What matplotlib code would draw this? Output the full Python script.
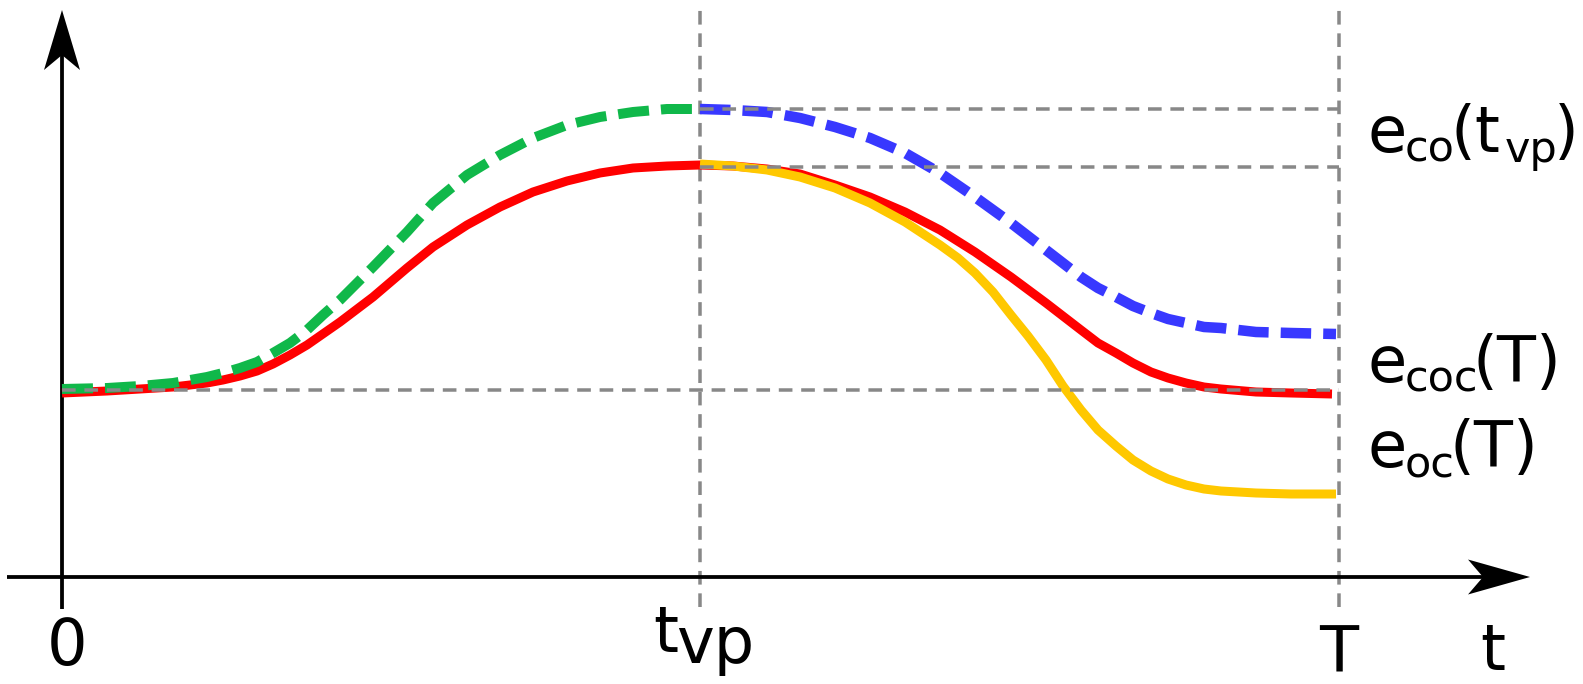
import matplotlib
matplotlib.use('Agg')
import matplotlib.pyplot as plt
from matplotlib.patches import Polygon

W, H, DPI = 1583, 684, 100
PX = 72.0 / DPI  # points per pixel

# ---- data: t = horizontal distance from origin, e = height above t-axis (arbitrary units) ----
t_red = [0, 45, 78, 111, 145, 161, 178, 195, 211, 228, 245, 278, 311, 345, 371, 405, 438, 471,
         505, 538, 571, 605, 638, 671, 705, 738, 773, 808, 843, 878, 913, 949, 984, 1019, 1036,
         1054, 1071, 1089, 1106, 1124, 1142, 1159, 1194, 1229, 1270]
e_red = [184, 186, 188, 190, 194, 197, 201, 206, 213, 222, 232, 255, 280, 309, 330, 352, 370, 385,
         396, 404, 409, 411, 412, 411, 408, 403, 392, 380, 365, 347, 325, 300, 274, 247, 234,
         224, 214, 205, 199, 194, 190, 188, 185, 184, 183]

t_green = [0, 45, 78, 111, 145, 161, 178, 195, 211, 228, 245, 261, 278, 295, 311, 345, 371, 405,
           438, 471, 505, 538, 571, 605, 638]
e_green = [188, 189, 191, 194, 200, 204, 209, 215, 224, 234, 247, 262, 277, 294, 310, 345, 374, 402,
           422, 439, 452, 460, 465, 468, 468]

t_blue = [638, 671, 705, 738, 773, 808, 843, 878, 913, 949, 984, 1019, 1036, 1054, 1071, 1089,
          1106, 1124, 1142, 1159, 1194, 1229, 1274]
e_blue = [468, 467, 465, 459, 450, 439, 424, 404, 380, 354, 327, 300, 289, 280, 271, 264,
          258, 254, 250, 249, 245, 244, 243]

t_yellow = [638, 671, 705, 738, 773, 808, 843, 878, 896, 913, 931, 949, 966, 984, 1001, 1019,
            1036, 1054, 1071, 1089, 1106, 1124, 1142, 1159, 1194, 1229, 1274]
e_yellow = [413, 411, 407, 400, 389, 374, 355, 332, 319, 304, 285, 262, 241, 217, 191, 167,
            147, 131, 117, 106, 98, 92, 88, 86, 84, 83, 83]

t_vp = 638
T_end = 1277
e_co_tvp = 468
e_coc_peak = 410
e_base = 187

plt.rcParams['font.family'] = ['DejaVu Sans']

fig = plt.figure(figsize=(W / DPI, H / DPI), dpi=DPI)
ax = fig.add_axes([0, 0, 1, 1])
ax.set_xlim(-62, W - 62)
ax.set_ylim(577 - H, 577)
ax.axis('off')

gray = '#888888'
gdash = dict(color=gray, lw=3.5 * PX, linestyle=(0, (3.9, 2.5)), dash_capstyle='butt')

# vertical reference lines (under curves)
ax.plot([t_vp, t_vp], [-30, 567], zorder=1, **gdash)
ax.plot([T_end, T_end], [-30, 567], zorder=1, **gdash)

# axes
ax.plot([-55, 1425], [0, 0], color='black', lw=3.8 * PX, solid_capstyle='butt', zorder=2)
ax.add_patch(Polygon([(1468, 0), (1406, 17.5), (1421, 0), (1406, -17.5)], closed=True,
                     facecolor='black', edgecolor='none', zorder=2))
ax.plot([0, 0], [-32, 530], color='black', lw=3.8 * PX, solid_capstyle='butt', zorder=2)
ax.add_patch(Polygon([(0, 567), (-18, 507), (0, 522), (18, 507)], closed=True,
                     facecolor='black', edgecolor='none', zorder=2))

# curves
ax.plot(t_red, e_red, color='#FF0000', lw=9 * PX, solid_capstyle='butt',
        solid_joinstyle='round', zorder=3)
ax.plot(t_yellow, e_yellow, color='#FFC800', lw=9 * PX, solid_capstyle='butt',
        solid_joinstyle='round', zorder=4)
ax.plot(t_green, e_green, color='#10B84A', lw=10 * PX, linestyle=(0, (3.1, 1.2)),
        dash_capstyle='butt', zorder=4)
ax.plot(t_blue, e_blue, color='#3838FF', lw=10.5 * PX, linestyle=(0, (2.9, 1.15)),
        dash_capstyle='butt', zorder=4)

# horizontal reference lines (over curves)
ax.plot([t_vp, T_end], [e_co_tvp, e_co_tvp], zorder=5, **gdash)
ax.plot([t_vp, T_end], [e_coc_peak, e_coc_peak], zorder=5, **gdash)
ax.plot([0, T_end], [e_base, e_base], zorder=5, **gdash)

fs = 46
fs_sub = 31
# axis labels
ax.text(5, -88, '0', ha='center', va='baseline', fontsize=fs)
ax.text(591, -75, 't', ha='left', va='baseline', fontsize=fs)
ax.text(614, -86, 'vp', ha='left', va='baseline', fontsize=fs)
ax.text(T_end, -96, 'T', ha='center', va='baseline', fontsize=fs)
ax.text(1431, -93, 't', ha='center', va='baseline', fontsize=fs)


def label(pieces, base):
    # pieces: (x, text, is_subscript)
    for x, s, sub in pieces:
        ax.text(x, base - 10 if sub else base, s, ha='left', va='baseline',
                fontsize=fs_sub if sub else fs)


label([(1306, 'e', False), (1343, 'co', True), (1389, '(t', False),
       (1443, 'vp', True), (1492, ')', False)], 425)
label([(1306, 'e', False), (1343, 'coc', True), (1411, '(T)', False)], 195)
label([(1306, 'e', False), (1343, 'oc', True), (1388, '(T)', False)], 110)

fig.savefig('out.png', dpi=DPI)
